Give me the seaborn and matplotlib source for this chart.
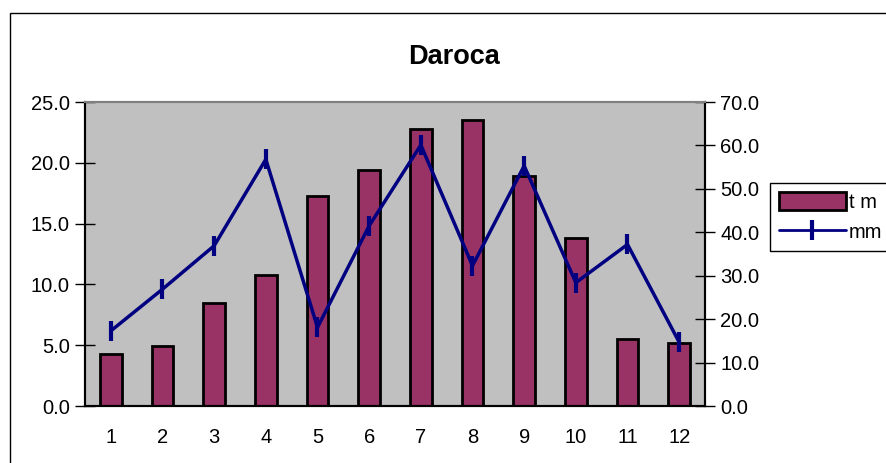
import matplotlib
matplotlib.use("Agg")
import matplotlib.pyplot as plt
import seaborn as sns
import pandas as pd
from matplotlib.patches import Rectangle

# datos Daroca
meses = ["1", "2", "3", "4", "5", "6", "7", "8", "9", "10", "11", "12"]
t_m = [4.3, 4.9, 8.5, 10.8, 17.3, 19.4, 22.8, 23.5, 18.9, 13.8, 5.5, 5.2]
mm = [17.3, 26.9, 36.9, 56.8, 18.1, 41.5, 60.1, 32.3, 55.3, 28.4, 37.2, 14.7]

sns.set_style("white")
plt.rcParams["font.family"] = ["Liberation Sans", "DejaVu Sans"]
plt.rcParams["text.color"] = "black"
plt.rcParams["xtick.color"] = "black"
plt.rcParams["ytick.color"] = "black"

df = pd.DataFrame({"mes": meses, "t m": t_m, "mm": mm, "pos": range(len(meses))})

fs = 14.5

fig = plt.figure(figsize=(8.86, 4.63), dpi=100)
ax = fig.add_axes([85 / 886, 57 / 463, 620 / 886, 304 / 463])
ax.set_facecolor("#C0C0C0")

sns.barplot(data=df, x="mes", y="t m", ax=ax, color="#993366", width=0.42,
            edgecolor="black", linewidth=2, saturation=1)
ax.set_xlim(-0.5, 11.5)
ax.set_ylim(0, 25)
ax.set_yticks([0, 5, 10, 15, 20, 25])
ax.set_yticklabels([f"{v:.1f}" for v in [0, 5, 10, 15, 20, 25]])
ax.set_xticks([i - 0.5 for i in range(13)])
ax.set_xticklabels([])
ax.set_xticks(range(12), minor=True)
ax.set_xticklabels(meses, minor=True)
ax.tick_params(axis="x", which="major", direction="inout", length=12, width=1, color="black")
ax.tick_params(axis="x", which="minor", length=0, labelsize=fs, pad=16)
ax.tick_params(axis="y", direction="inout", length=14, width=1, color="black", labelsize=fs, pad=4)
ax.set_xlabel("")
ax.set_ylabel("")

ax2 = ax.twinx()
sns.lineplot(data=df, x="pos", y="mm", ax=ax2, color="#000080", linewidth=2.5,
             marker="|", markersize=14, markeredgewidth=3, markeredgecolor="#000080")
ax2.set_ylim(0, 70)
ax2.set_yticks(range(0, 71, 10))
ax2.set_yticklabels([f"{v:.1f}" for v in range(0, 71, 10)])
ax2.tick_params(axis="y", direction="inout", length=14, width=1, color="black", labelsize=fs, pad=4)
ax2.set_ylabel("")
ax2.set_xlabel("")
ax2.set_xlim(-0.5, 11.5)

for a in (ax, ax2):
    for s in a.spines.values():
        s.set_color("#808080")
        s.set_linewidth(1.5)
    a.spines["left"].set_color("black")
    a.spines["bottom"].set_color("black")
    a.spines["right"].set_color("black")

fig.text(454 / 886, 1 - 57 / 463, "Daroca", fontsize=19.5, fontweight="bold",
         ha="center", va="center")

# leyenda
h_bar = Rectangle((0, 0), 1, 1, facecolor="#993366", edgecolor="black", linewidth=2)
h_line = plt.Line2D([], [], color="#000080", linewidth=2, marker="|", markersize=14,
                    markeredgewidth=3)
leg = fig.legend([h_bar, h_line], ["t m", "mm"], loc="upper left",
                 bbox_to_anchor=(770 / 886, 1 - 183 / 463), fontsize=fs,
                 fancybox=False, framealpha=1, edgecolor="black",
                 handlelength=3.3, handleheight=1.0, handletextpad=0.15,
                 borderpad=0.45, labelspacing=0.5, borderaxespad=0)
leg.get_frame().set_linewidth(1)

# marco del grafico
fig.patches.append(Rectangle((10 / 886, -0.01), 0.99, 1 - 13 / 463 + 0.01,
                             transform=fig.transFigure, fill=False,
                             edgecolor="black", linewidth=1))

fig.savefig("out.png", dpi=100)
